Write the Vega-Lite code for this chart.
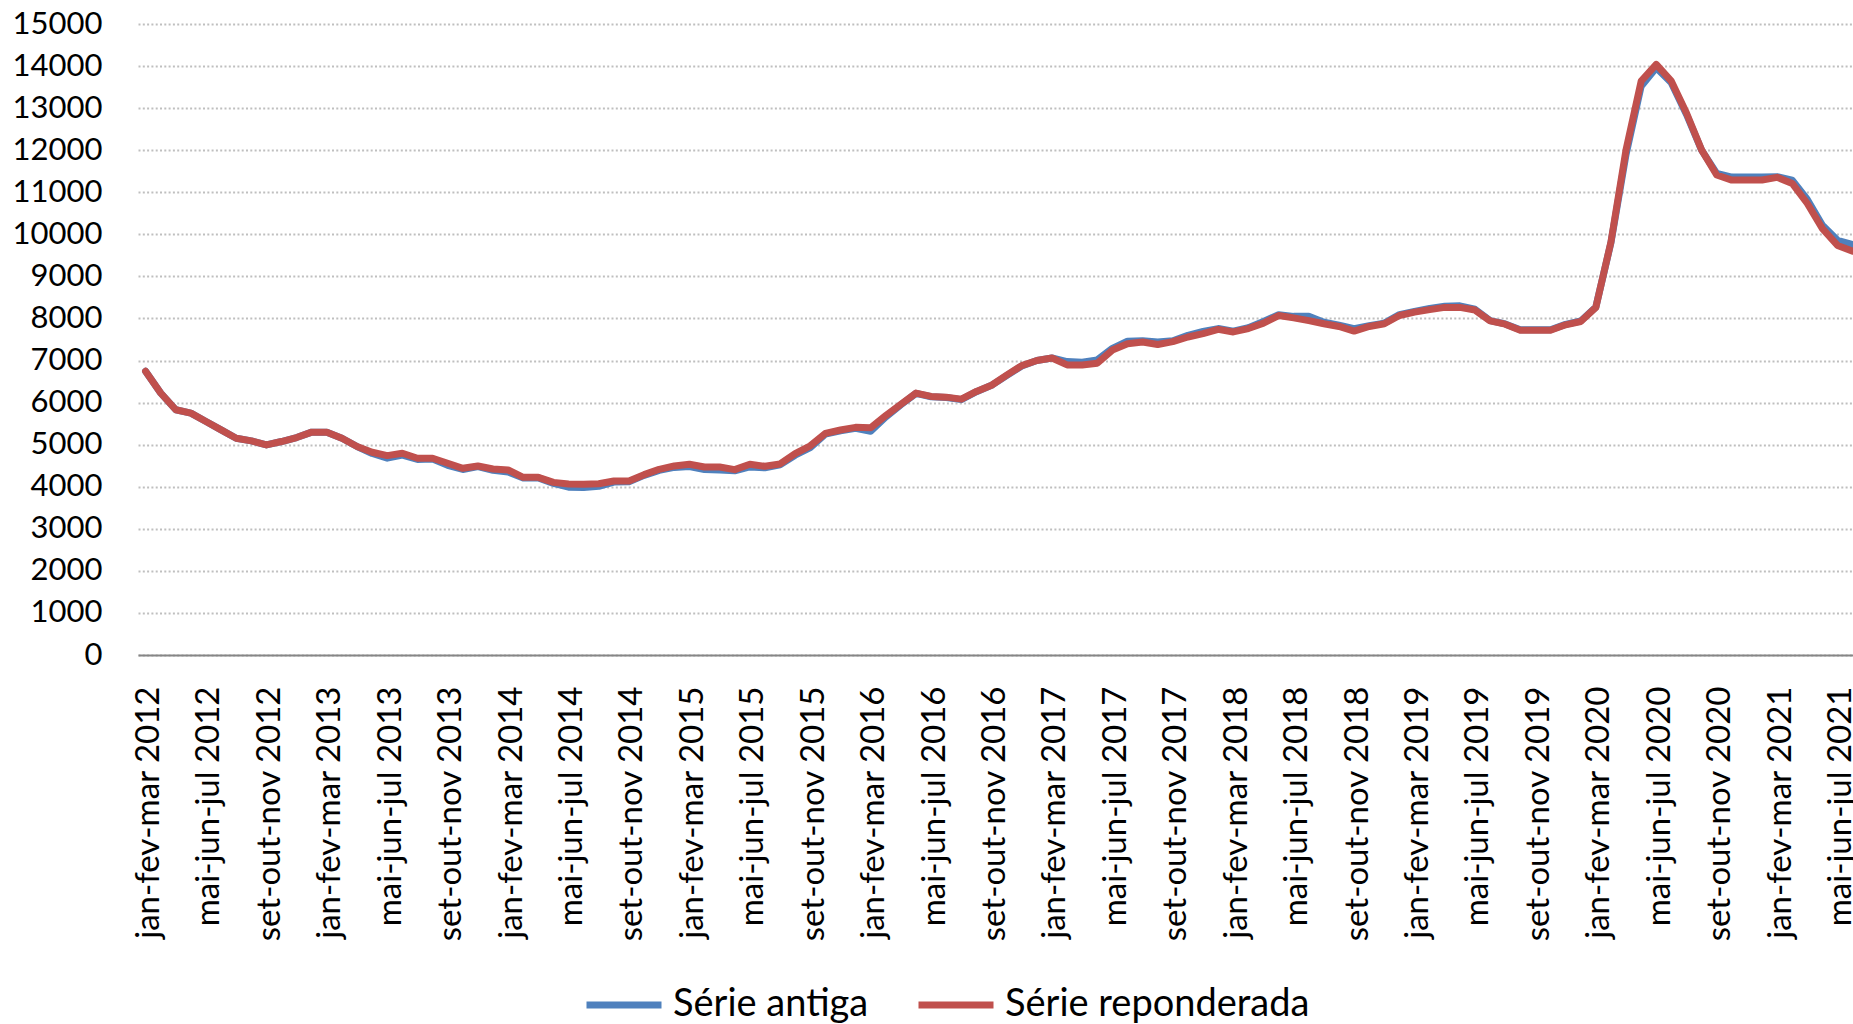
{
  "$schema": "https://vega.github.io/schema/vega-lite/v6.json",
  "autosize": {"type": "none"},
  "padding": {"left": 138, "top": 24, "right": 0, "bottom": 369},
  "width": 1715,
  "height": 631,
  "background": "white",
  "config": {"view": {"stroke": null}, "font": "Lato"},
  "data": {"values": [
    {"p": "jan-fev-mar 2012", "Série antiga": 6745, "Série reponderada": 6745},
    {"p": "fev-mar-abr 2012", "Série antiga": 6228, "Série reponderada": 6228},
    {"p": "mar-abr-mai 2012", "Série antiga": 5830, "Série reponderada": 5830},
    {"p": "abr-mai-jun 2012", "Série antiga": 5750, "Série reponderada": 5750},
    {"p": "mai-jun-jul 2012", "Série antiga": 5552, "Série reponderada": 5552},
    {"p": "jun-jul-ago 2012", "Série antiga": 5353, "Série reponderada": 5353},
    {"p": "jul-ago-set 2012", "Série antiga": 5154, "Série reponderada": 5154},
    {"p": "ago-set-out 2012", "Série antiga": 5090, "Série reponderada": 5090},
    {"p": "set-out-nov 2012", "Série antiga": 4995, "Série reponderada": 4995},
    {"p": "out-nov-dez 2012", "Série antiga": 5075, "Série reponderada": 5075},
    {"p": "nov-dez-jan 2013", "Série antiga": 5170, "Série reponderada": 5170},
    {"p": "dez-jan-fev 2013", "Série antiga": 5298, "Série reponderada": 5298},
    {"p": "jan-fev-mar 2013", "Série antiga": 5298, "Série reponderada": 5298},
    {"p": "fev-mar-abr 2013", "Série antiga": 5154, "Série reponderada": 5154},
    {"p": "mar-abr-mai 2013", "Série antiga": 4955, "Série reponderada": 4955},
    {"p": "abr-mai-jun 2013", "Série antiga": 4790, "Série reponderada": 4820},
    {"p": "mai-jun-jul 2013", "Série antiga": 4680, "Série reponderada": 4740},
    {"p": "jun-jul-ago 2013", "Série antiga": 4750, "Série reponderada": 4796},
    {"p": "jul-ago-set 2013", "Série antiga": 4650, "Série reponderada": 4677},
    {"p": "ago-set-out 2013", "Série antiga": 4660, "Série reponderada": 4677},
    {"p": "set-out-nov 2013", "Série antiga": 4510, "Série reponderada": 4558},
    {"p": "out-nov-dez 2013", "Série antiga": 4410, "Série reponderada": 4438},
    {"p": "nov-dez-jan 2014", "Série antiga": 4480, "Série reponderada": 4494},
    {"p": "dez-jan-fev 2014", "Série antiga": 4390, "Série reponderada": 4422},
    {"p": "jan-fev-mar 2014", "Série antiga": 4350, "Série reponderada": 4398},
    {"p": "fev-mar-abr 2014", "Série antiga": 4210, "Série reponderada": 4224},
    {"p": "mar-abr-mai 2014", "Série antiga": 4210, "Série reponderada": 4224},
    {"p": "abr-mai-jun 2014", "Série antiga": 4080, "Série reponderada": 4104},
    {"p": "mai-jun-jul 2014", "Série antiga": 3990, "Série reponderada": 4065},
    {"p": "jun-jul-ago 2014", "Série antiga": 3980, "Série reponderada": 4060},
    {"p": "jul-ago-set 2014", "Série antiga": 4010, "Série reponderada": 4071},
    {"p": "ago-set-out 2014", "Série antiga": 4110, "Série reponderada": 4135},
    {"p": "set-out-nov 2014", "Série antiga": 4120, "Série reponderada": 4135},
    {"p": "out-nov-dez 2014", "Série antiga": 4270, "Série reponderada": 4287},
    {"p": "nov-dez-jan 2015", "Série antiga": 4390, "Série reponderada": 4414},
    {"p": "dez-jan-fev 2015", "Série antiga": 4460, "Série reponderada": 4494},
    {"p": "jan-fev-mar 2015", "Série antiga": 4480, "Série reponderada": 4534},
    {"p": "fev-mar-abr 2015", "Série antiga": 4410, "Série reponderada": 4470},
    {"p": "mar-abr-mai 2015", "Série antiga": 4400, "Série reponderada": 4470},
    {"p": "abr-mai-jun 2015", "Série antiga": 4380, "Série reponderada": 4406},
    {"p": "mai-jun-jul 2015", "Série antiga": 4470, "Série reponderada": 4534},
    {"p": "jun-jul-ago 2015", "Série antiga": 4450, "Série reponderada": 4486},
    {"p": "jul-ago-set 2015", "Série antiga": 4520, "Série reponderada": 4542},
    {"p": "ago-set-out 2015", "Série antiga": 4750, "Série reponderada": 4789},
    {"p": "set-out-nov 2015", "Série antiga": 4930, "Série reponderada": 4973},
    {"p": "out-nov-dez 2015", "Série antiga": 5250, "Série reponderada": 5268},
    {"p": "nov-dez-jan 2016", "Série antiga": 5330, "Série reponderada": 5348},
    {"p": "dez-jan-fev 2016", "Série antiga": 5390, "Série reponderada": 5412},
    {"p": "jan-fev-mar 2016", "Série antiga": 5320, "Série reponderada": 5404},
    {"p": "fev-mar-abr 2016", "Série antiga": 5660, "Série reponderada": 5691},
    {"p": "mar-abr-mai 2016", "Série antiga": 5950, "Série reponderada": 5962},
    {"p": "abr-mai-jun 2016", "Série antiga": 6220, "Série reponderada": 6226},
    {"p": "mai-jun-jul 2016", "Série antiga": 6140, "Série reponderada": 6146},
    {"p": "jun-jul-ago 2016", "Série antiga": 6120, "Série reponderada": 6130},
    {"p": "jul-ago-set 2016", "Série antiga": 6070, "Série reponderada": 6082},
    {"p": "ago-set-out 2016", "Série antiga": 6260, "Série reponderada": 6266},
    {"p": "set-out-nov 2016", "Série antiga": 6410, "Série reponderada": 6413},
    {"p": "out-nov-dez 2016", "Série antiga": 6640, "Série reponderada": 6652},
    {"p": "nov-dez-jan 2017", "Série antiga": 6870, "Série reponderada": 6880},
    {"p": "dez-jan-fev 2017", "Série antiga": 7000, "Série reponderada": 7000},
    {"p": "jan-fev-mar 2017", "Série antiga": 7060, "Série reponderada": 7060},
    {"p": "fev-mar-abr 2017", "Série antiga": 6976, "Série reponderada": 6896},
    {"p": "mar-abr-mai 2017", "Série antiga": 6960, "Série reponderada": 6896},
    {"p": "abr-mai-jun 2017", "Série antiga": 7016, "Série reponderada": 6936},
    {"p": "mai-jun-jul 2017", "Série antiga": 7290, "Série reponderada": 7250},
    {"p": "jun-jul-ago 2017", "Série antiga": 7460, "Série reponderada": 7400},
    {"p": "jul-ago-set 2017", "Série antiga": 7470, "Série reponderada": 7440},
    {"p": "ago-set-out 2017", "Série antiga": 7440, "Série reponderada": 7380},
    {"p": "set-out-nov 2017", "Série antiga": 7470, "Série reponderada": 7450},
    {"p": "out-nov-dez 2017", "Série antiga": 7600, "Série reponderada": 7560},
    {"p": "nov-dez-jan 2018", "Série antiga": 7690, "Série reponderada": 7640},
    {"p": "dez-jan-fev 2018", "Série antiga": 7760, "Série reponderada": 7740},
    {"p": "jan-fev-mar 2018", "Série antiga": 7700, "Série reponderada": 7680},
    {"p": "fev-mar-abr 2018", "Série antiga": 7780, "Série reponderada": 7760},
    {"p": "mar-abr-mai 2018", "Série antiga": 7930, "Série reponderada": 7890},
    {"p": "abr-mai-jun 2018", "Série antiga": 8090, "Série reponderada": 8070},
    {"p": "mai-jun-jul 2018", "Série antiga": 8050, "Série reponderada": 8015},
    {"p": "jun-jul-ago 2018", "Série antiga": 8050, "Série reponderada": 7950},
    {"p": "jul-ago-set 2018", "Série antiga": 7910, "Série reponderada": 7875},
    {"p": "ago-set-out 2018", "Série antiga": 7840, "Série reponderada": 7810},
    {"p": "set-out-nov 2018", "Série antiga": 7760, "Série reponderada": 7700},
    {"p": "out-nov-dez 2018", "Série antiga": 7830, "Série reponderada": 7810},
    {"p": "nov-dez-jan 2019", "Série antiga": 7890, "Série reponderada": 7875},
    {"p": "dez-jan-fev 2019", "Série antiga": 8090, "Série reponderada": 8070},
    {"p": "jan-fev-mar 2019", "Série antiga": 8170, "Série reponderada": 8150},
    {"p": "fev-mar-abr 2019", "Série antiga": 8240, "Série reponderada": 8210},
    {"p": "mar-abr-mai 2019", "Série antiga": 8290, "Série reponderada": 8263},
    {"p": "abr-mai-jun 2019", "Série antiga": 8300, "Série reponderada": 8263},
    {"p": "mai-jun-jul 2019", "Série antiga": 8220, "Série reponderada": 8200},
    {"p": "jun-jul-ago 2019", "Série antiga": 7950, "Série reponderada": 7944},
    {"p": "jul-ago-set 2019", "Série antiga": 7870, "Série reponderada": 7865},
    {"p": "ago-set-out 2019", "Série antiga": 7730, "Série reponderada": 7721},
    {"p": "set-out-nov 2019", "Série antiga": 7730, "Série reponderada": 7721},
    {"p": "out-nov-dez 2019", "Série antiga": 7730, "Série reponderada": 7721},
    {"p": "nov-dez-jan 2020", "Série antiga": 7860, "Série reponderada": 7849},
    {"p": "dez-jan-fev 2020", "Série antiga": 7940, "Série reponderada": 7928},
    {"p": "jan-fev-mar 2020", "Série antiga": 8270, "Série reponderada": 8263},
    {"p": "fev-mar-abr 2020", "Série antiga": 9800, "Série reponderada": 9817},
    {"p": "mar-abr-mai 2020", "Série antiga": 11900, "Série reponderada": 12008},
    {"p": "abr-mai-jun 2020", "Série antiga": 13520, "Série reponderada": 13641},
    {"p": "mai-jun-jul 2020", "Série antiga": 13960, "Série reponderada": 14040},
    {"p": "jun-jul-ago 2020", "Série antiga": 13600, "Série reponderada": 13641},
    {"p": "jul-ago-set 2020", "Série antiga": 12850, "Série reponderada": 12884},
    {"p": "ago-set-out 2020", "Série antiga": 12000, "Série reponderada": 12008},
    {"p": "set-out-nov 2020", "Série antiga": 11450, "Série reponderada": 11410},
    {"p": "out-nov-dez 2020", "Série antiga": 11360, "Série reponderada": 11290},
    {"p": "nov-dez-jan 2021", "Série antiga": 11360, "Série reponderada": 11290},
    {"p": "dez-jan-fev 2021", "Série antiga": 11360, "Série reponderada": 11290},
    {"p": "jan-fev-mar 2021", "Série antiga": 11370, "Série reponderada": 11355},
    {"p": "fev-mar-abr 2021", "Série antiga": 11290, "Série reponderada": 11210},
    {"p": "mar-abr-mai 2021", "Série antiga": 10829, "Série reponderada": 10733},
    {"p": "abr-mai-jun 2021", "Série antiga": 10215, "Série reponderada": 10135},
    {"p": "mai-jun-jul 2021", "Série antiga": 9857, "Série reponderada": 9737},
    {"p": "jun-jul-ago 2021", "Série antiga": 9760, "Série reponderada": 9600}
  ]},
  "transform": [
    {"fold": ["Série antiga", "Série reponderada"], "as": ["serie", "valor"]}
  ],
  "mark": {"type": "line", "strokeWidth": 7, "strokeCap": "round", "strokeJoin": "round", "clip": false},
  "encoding": {
    "x": {
      "field": "p",
      "type": "ordinal",
      "sort": null,
      "scale": {"type": "point", "padding": 0.5, "range": [0, 1722.2]},
      "axis": {
        "title": null,
        "labelAngle": -90,
        "labelFont": "Lato",
        "labelFontSize": 33,
        "labelColor": "#000000",
        "labelPadding": 31,
        "labelOffset": 3,
        "labelOverlap": false,
        "labelBound": false,
        "labelFlush": false,
        "labelLimit": 500,
        "ticks": false,
        "tickSize": 0,
        "grid": false,
        "domainColor": "#868686",
        "domainWidth": 2.2,
        "values": [
          "jan-fev-mar 2012", "mai-jun-jul 2012", "set-out-nov 2012",
          "jan-fev-mar 2013", "mai-jun-jul 2013", "set-out-nov 2013",
          "jan-fev-mar 2014", "mai-jun-jul 2014", "set-out-nov 2014",
          "jan-fev-mar 2015", "mai-jun-jul 2015", "set-out-nov 2015",
          "jan-fev-mar 2016", "mai-jun-jul 2016", "set-out-nov 2016",
          "jan-fev-mar 2017", "mai-jun-jul 2017", "set-out-nov 2017",
          "jan-fev-mar 2018", "mai-jun-jul 2018", "set-out-nov 2018",
          "jan-fev-mar 2019", "mai-jun-jul 2019", "set-out-nov 2019",
          "jan-fev-mar 2020", "mai-jun-jul 2020", "set-out-nov 2020",
          "jan-fev-mar 2021", "mai-jun-jul 2021"
        ]
      }
    },
    "y": {
      "field": "valor",
      "type": "quantitative",
      "scale": {"domain": [0, 15000], "nice": false, "zero": true},
      "axis": {
        "title": null,
        "values": [0, 1000, 2000, 3000, 4000, 5000, 6000, 7000, 8000, 9000, 10000, 11000, 12000, 13000, 14000, 15000],
        "format": "d",
        "labelFont": "Lato",
        "labelFontSize": 31,
        "labelColor": "#000000",
        "labelPadding": 36,
        "labelFlush": false,
        "ticks": false,
        "tickSize": 0,
        "domain": false,
        "grid": true,
        "gridColor": "#BFBFBF",
        "gridDash": [2, 2.3],
        "gridWidth": 1.8
      }
    },
    "color": {
      "field": "serie",
      "type": "nominal",
      "scale": {"domain": ["Série antiga", "Série reponderada"], "range": ["#4F81BD", "#C0504D"]},
      "legend": {
        "title": null,
        "orient": "none",
        "legendX": 445,
        "legendY": 940,
        "direction": "horizontal",
        "padding": 0,
        "symbolType": "stroke",
        "symbolSize": 5625,
        "symbolStrokeWidth": 7,
        "labelFont": "Lato",
        "labelFontSize": 38,
        "labelColor": "#000000",
        "labelOffset": 8,
        "columnPadding": 35,
        "labelLimit": 600
      }
    }
  }
}
